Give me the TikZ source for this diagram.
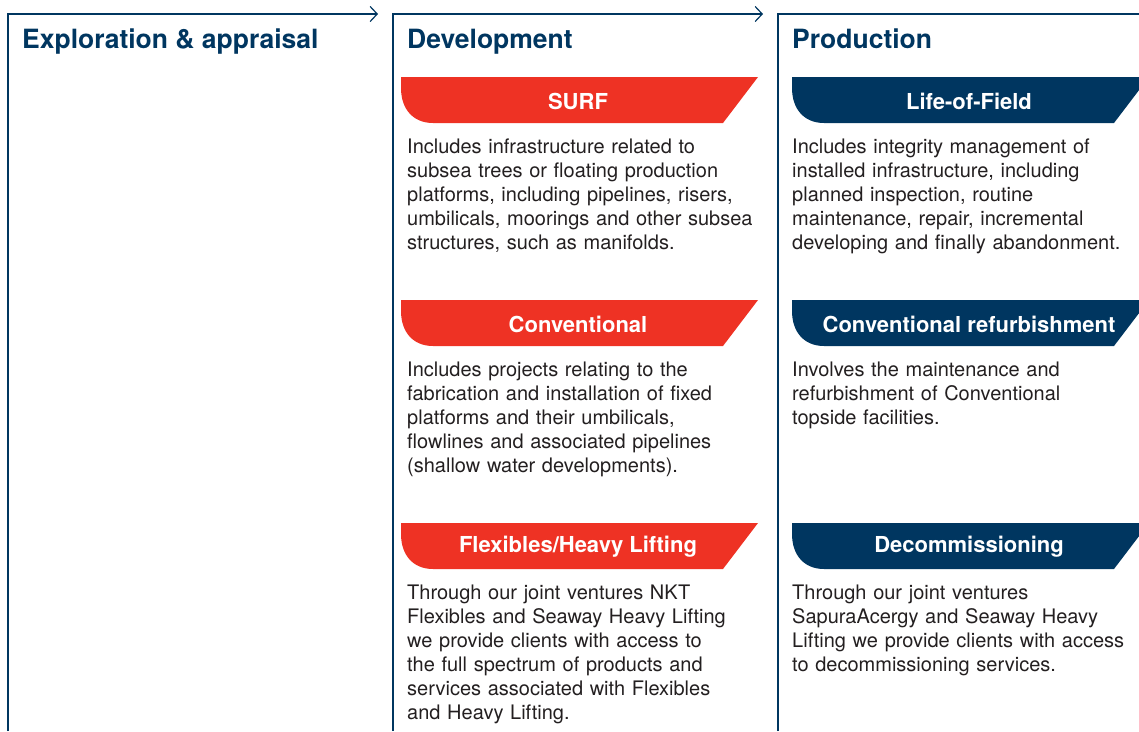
\documentclass[tikz,border=0pt]{standalone}
\usepackage{fontspec}
\setmainfont{TeX Gyre Heros}
\usetikzlibrary{arrows.meta}
\definecolor{navy}{RGB}{0,54,96}
\definecolor{surfred}{RGB}{238,50,36}
\definecolor{bodytext}{RGB}{35,31,32}

\begin{document}
\begin{tikzpicture}[x=1pt,y=-1pt,>={Straight Barb[length=7pt,width=15pt]},
    phase/.style={anchor=base west,inner sep=0pt,text=navy,font=\fontsize{26.5}{30}\selectfont\bfseries},
    tag/.style={inner sep=0pt,text=white,font=\fontsize{22}{24}\selectfont\bfseries},
    blurb/.style={anchor=base west,inner sep=0pt,text=bodytext,text width=360pt,align=left,
        font=\fontsize{20}{24}\selectfont}]
    \clip (0,0) rectangle (1139,731);
    % column frames
    \coordinate (E0) at (8,731);   \coordinate (E1) at (8,14);   \coordinate (E2) at (378,14);
    \coordinate (D0) at (393,731); \coordinate (D1) at (393,14); \coordinate (D2) at (763,14);
    \coordinate (P0) at (778,731); \coordinate (P1) at (778,14); \coordinate (P2) at (1139,14);
    \draw[navy,line width=1.2pt,->] (E0) -- (E1) -- (E2);
    \draw[navy,line width=1.2pt,->] (D0) -- (D1) -- (D2);
    \draw[navy,line width=1.2pt] (P0) -- (P1) -- (P2);
    \node[phase] (explore) at (22,48) {Exploration \& appraisal};
    \node[phase] (develop) at (407,48) {Development};
    \node[phase] (produce) at (792,48) {Production};
    % banners
    \foreach \bx/\by/\col/\name/\label in {401/77/surfred/surf/SURF,
        401/300/surfred/conv/Conventional,
        401/523/surfred/flex/Flexibles\slash Heavy Lifting,
        792/77/navy/lof/Life-of-Field,
        792/300/navy/refurb/Conventional refurbishment,
        792/523/navy/decom/Decommissioning}{
        \begin{scope}[shift={(\bx,\by)}]
            \fill[\col] (0,0) -- (357,0) -- (322,46) -- (32,46)
                .. controls (12,46) and (0,32) .. (0,11) -- cycle;
            \node[tag] (\name) at (177,24) {\label};
        \end{scope}
    }
    % descriptions
    \node[blurb] (surftext) at (407,153) {Includes infrastructure related to\\
        subsea trees or floating production\\platforms, including pipelines, risers,\\
        umbilicals, moorings and other subsea\\structures, such as manifolds.};
    \node[blurb] (convtext) at (407,376) {Includes projects relating to the\\
        fabrication and installation of fixed\\platforms and their umbilicals,\\
        flowlines and associated pipelines\\(shallow water developments).};
    \node[blurb] (flextext) at (407,599) {Through our joint ventures NKT\\
        Flexibles and Seaway Heavy Lifting\\we provide clients with access to\\
        the full spectrum of products and\\services associated with Flexibles\\
        and Heavy Lifting.};
    \node[blurb] (loftext) at (792,153) {Includes integrity management of\\
        installed infrastructure, including\\planned inspection, routine\\
        maintenance, repair, incremental\\developing and finally abandonment.};
    \node[blurb] (refurbtext) at (792,376) {Involves the maintenance and\\
        refurbishment of Conventional\\topside facilities.};
    \node[blurb] (decomtext) at (792,599) {Through our joint ventures\\
        SapuraAcergy and Seaway Heavy\\Lifting we provide clients with access\\
        to decommissioning services.};
\end{tikzpicture}
\end{document}
